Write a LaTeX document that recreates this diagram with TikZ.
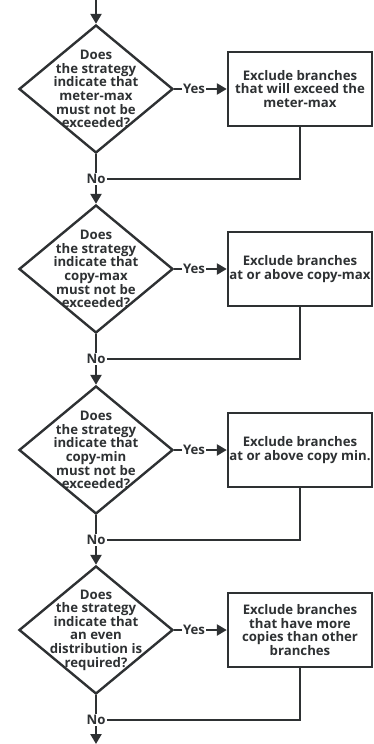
\documentclass[tikz,border=0pt]{standalone}
\usepackage{fontspec}
\setmainfont{Open Sans}[BoldFont={* Bold}]
\usetikzlibrary{shapes.geometric,arrows.meta}
\definecolor{ink}{HTML}{2E3133}
\tikzset{
  every node/.style={font=\bfseries\fontsize{13.2}{13.6}\selectfont, text=ink},
  dia/.style={diamond, draw=ink, line width=2.4pt, minimum width=154pt, minimum height=128pt, inner sep=0pt, aspect=1.2},
  dtext/.style={align=center, inner sep=0pt},
  stepbox/.style={draw=ink, line width=2.4pt, minimum width=144pt, minimum height=74pt, align=center, inner sep=0pt},
  lbl/.style={fill=white, inner sep=1.2pt},
  conn/.style={draw=ink, line width=2.4pt},
  arr/.style={conn, -{Triangle[width=11pt,length=10pt]}},
}
\begin{document}
\begin{tikzpicture}[x=1pt,y=-1pt]
\useasboundingbox (0,0) rectangle (374,744);
\coordinate (start) at (96,0);
\coordinate (finish) at (96,744);
% stage 1
\node[dia] (d1) at (96,89) {};
\node[dtext] at (d1) {Does\\the strategy\\indicate that\\meter-max\\must not be\\exceeded?};
\node[stepbox] (b1) at (300,89) {Exclude branches\\that will exceed the\\meter-max};
\node[lbl] (y1) at (194,89) {Yes};
\node[lbl] (n1) at (96,179) {No};
% stage 2
\node[dia] (d2) at (96,269) {};
\node[dtext] at (d2) {Does\\the strategy\\indicate that\\copy-max\\must not be\\exceeded?};
\node[stepbox] (b2) at (300,269) {Exclude branches\\at or above copy-max};
\node[lbl] (y2) at (194,269) {Yes};
\node[lbl] (n2) at (96,359) {No};
% stage 3
\node[dia] (d3) at (96,450) {};
\node[dtext] at (d3) {Does\\the strategy\\indicate that\\copy-min\\must not be\\exceeded?};
\node[stepbox] (b3) at (300,450) {Exclude branches\\at or above copy min.};
\node[lbl] (y3) at (194,450) {Yes};
\node[lbl] (n3) at (96,540) {No};
% stage 4
\node[dia] (d4) at (96,630) {};
\node[dtext] at (d4) {Does\\the strategy\\indicate that\\an even\\distribution is\\required?};
\node[stepbox] (b4) at (300,630) {Exclude branches\\that have more\\copies than other\\branches};
\node[lbl] (y4) at (194,630) {Yes};
\node[lbl] (n4) at (96,720) {No};
% connectors
\draw[arr] (start) -- (d1.north);
\foreach \i/\j in {1/2,2/3,3/4} {
  \draw[conn] (d\i.east) -- (y\i.west);
  \draw[arr] (y\i.east) -- (b\i.west);
  \draw[conn] (d\i.south) -- (n\i.north);
  \draw[conn] (b\i.south) |- (n\i.east);
  \draw[arr] (n\i.south) -- (d\j.north);
}
\draw[conn] (d4.east) -- (y4.west);
\draw[arr] (y4.east) -- (b4.west);
\draw[conn] (d4.south) -- (n4.north);
\draw[conn] (b4.south) |- (n4.east);
\draw[arr] (n4.south) -- (finish);
\end{tikzpicture}
\end{document}
